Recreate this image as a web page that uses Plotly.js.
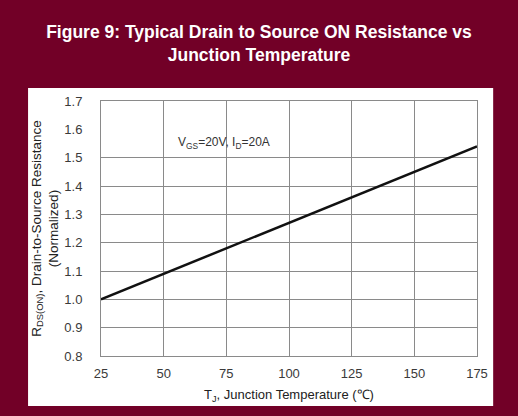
<!DOCTYPE html>
<html><head><meta charset="utf-8">
<script src="https://cdn.plot.ly/plotly-3.0.1.min.js"></script>
<style>html,body{margin:0;padding:0;background:#720027;}#c{width:518px;height:416px;}</style>
</head><body><div id="c"></div>
<script>
const tempC = [25, 50, 75, 100, 125, 150, 175];
const rdsNorm = [1.0, 1.09, 1.18, 1.27, 1.36, 1.45, 1.54];
const yTicks = [0.8, 0.9, 1.0, 1.1, 1.2, 1.3, 1.4, 1.5, 1.6, 1.7];
const yTickText = ['0.8','0.9','1.0','1.1','1.2','1.3','1.4','1.5','1.6','1.7'];
const yGrid = [0.9, 1.0, 1.1, 1.2, 1.3, 1.4, 1.5];
const xTicks = [25, 50, 75, 100, 125, 150, 175];

const traces = [{
  x: tempC, y: rdsNorm, type: 'scatter', mode: 'lines',
  line: {color: '#111', width: 2.5}, hoverinfo: 'skip'
}];
const tickFont = {family: 'Liberation Sans, Arial, sans-serif', size: 13, color: '#3a3a3a'};
const layout = {
  width: 518, height: 416,
  paper_bgcolor: '#720027', plot_bgcolor: '#ffffff',
  margin: {l: 101, r: 41, t: 101, b: 60},
  showlegend: false,
  title: {
    text: '<b>Figure 9: Typical Drain to Source ON Resistance vs<br>Junction Temperature</b>',
    font: {family: 'Liberation Sans Narrow, Arial Narrow, Liberation Sans, sans-serif', size: 17.5, color: '#ffffff'},
    x: 0.5, xanchor: 'center', y: 0.908, yanchor: 'top'
  },
  xaxis: {
    range: [25, 175], tickvals: xTicks, ticktext: xTicks.map(String),
    showgrid: true, gridcolor: '#8a8a8a', gridwidth: 1,
    showline: true, linecolor: '#8a8a8a', linewidth: 1, mirror: true,
    zeroline: false, ticks: '', tickfont: tickFont, ticklabelstandoff: 5,
    title: {text: 'T<sub>J</sub>, Junction Temperature (℃)', font: {family: 'Liberation Sans, Arial, sans-serif', size: 13, color: '#222'}, standoff: 10}
  },
  yaxis: {
    range: [0.8, 1.7], tickvals: yTicks, ticktext: yTickText,
    showgrid: false, showline: true, linecolor: '#8a8a8a', linewidth: 1, mirror: true,
    zeroline: false, ticks: '', tickfont: tickFont, ticklabelstandoff: 15,
    title: {text: 'R<sub>DS(ON)</sub>, Drain-to-Source Resistance<br>(Normalized)', font: {family: 'Liberation Sans, Arial, sans-serif', size: 13.5, color: '#222'}, standoff: 2}
  },
  yaxis2: {
    range: [0.8, 1.7], overlaying: 'y', tickvals: yGrid, showticklabels: false,
    showgrid: true, gridcolor: '#8a8a8a', gridwidth: 1, zeroline: false, ticks: ''
  },
  shapes: [{
    type: 'rect', xref: 'paper', yref: 'paper', layer: 'below',
    x0: -0.194, x1: 1.043, y0: -0.196, y1: 1.051,
    fillcolor: '#ffffff', line: {width: 0}
  }],
  annotations: [{
    x: 0.327, y: 1.552, xref: 'paper', yref: 'y', xanchor: 'center', yanchor: 'middle', showarrow: false,
    text: 'V<sub>GS</sub>=20V, I<sub>D</sub>=20A',
    font: {family: 'Liberation Sans, Arial, sans-serif', size: 12, color: '#333'}
  }]
};
traces.push({x: [25], y: [0.8], yaxis: 'y2', type: 'scatter', mode: 'markers', marker: {opacity: 0}, hoverinfo: 'skip'});
Plotly.newPlot('c', traces, layout, {displayModeBar: false, staticPlot: true});
</script></body></html>
